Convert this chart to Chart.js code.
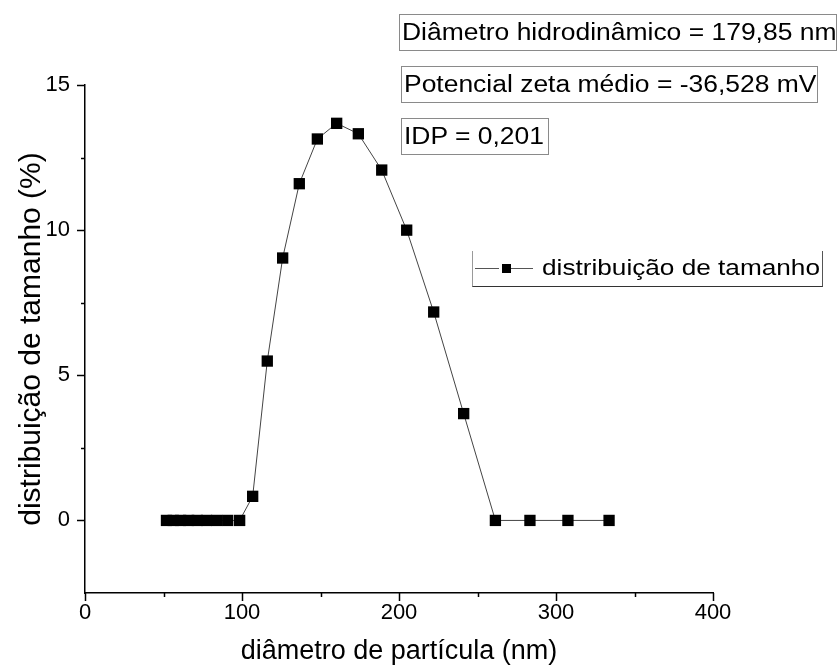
<!DOCTYPE html>
<html>
<head>
<meta charset="utf-8">
<script src="https://cdn.jsdelivr.net/npm/chart.js@4"></script>
<style>
  body { margin: 0; background: #fff; }
  #wrap { position: relative; width: 840px; height: 670px; font-family: "Liberation Sans", Arial, sans-serif; }
  .note { position: absolute; border: 1px solid #8a8a8a; font-size: 23px; line-height: 35px; color: #000; white-space: nowrap; box-sizing: border-box; }
  .note span, #legend .tx { display: inline-block; transform-origin: 0 50%; transform: scaleX(1.15); }
  .note span { margin-left: 2px; }
  #legend { position: absolute; left: 472px; top: 251px; width: 351px; height: 36px; box-sizing: border-box;
            border-left: 1px solid #9a9a9a; border-right: 1px solid #555; border-bottom: 1px solid #333;
            font-size: 22px; line-height: 34px; white-space: nowrap; }
  #legend .ln { position: absolute; top: 17px; height: 1px; background: #555; }
  #legend .mk { position: absolute; left: 29px; top: 13px; width: 9px; height: 9px; background: #000; }
  #legend .tx { position: absolute; left: 69px; top: 0; transform: scaleX(1.19); }
</style>
</head>
<body>
<div id="wrap">
  <canvas id="chart" width="840" height="670"></canvas>
  <div class="note" style="left:399px; top:14px; width:438px; height:37px;"><span>Diâmetro hidrodinâmico = 179,85 nm</span></div>
  <div class="note" style="left:401px; top:66px; width:417px; height:37px;"><span>Potencial zeta médio = -36,528 mV</span></div>
  <div class="note" style="left:401px; top:118px; width:148px; height:37px;"><span>IDP = 0,201</span></div>
  <div id="legend">
    <div class="ln" style="left:2px; width:24px;"></div>
    <div class="mk"></div>
    <div class="ln" style="left:38px; width:22px;"></div>
    <div class="tx">distribuição de tamanho</div>
  </div>
</div>
<script>
// diâmetro (nm) de cada classe e a distribuição (%)
const diameters = [51.9, 56.2, 60.9, 66.0, 71.5, 77.4, 83.9, 90.9, 98.5,
                   106.8, 116.1, 125.9, 136.5, 148.0, 160.3, 174.1, 189.0,
                   204.9, 222.1, 241.2, 261.4, 283.4, 307.6, 333.8];
const distribution = [0, 0, 0, 0, 0, 0, 0, 0, 0,
                      0.83, 5.49, 9.04, 11.6, 13.14, 13.68, 13.32, 12.07,
                      10.0, 7.18, 3.68, 0, 0, 0, 0];
const xTickLabels = [0, 100, 200, 300, 400];
const yTickLabels = [0, 5, 10, 15];

const FONT = '"Liberation Sans", Arial, sans-serif';

// ticks maiores e menores desenhados para fora dos eixos
const tickMarks = {
  id: 'tickMarks',
  afterDraw(chart) {
    const ctx = chart.ctx;
    const xs = chart.scales.x, ys = chart.scales.y;
    ctx.save();
    ctx.strokeStyle = '#000';
    ctx.lineWidth = 1.5;
    xs.ticks.forEach(t => {
      const px = Math.round(xs.getPixelForValue(t.value)) + 0.5;
      const len = xTickLabels.includes(t.value) ? 8 : 4;
      ctx.beginPath();
      ctx.moveTo(px, ys.bottom);
      ctx.lineTo(px, ys.bottom + len);
      ctx.stroke();
    });
    ys.ticks.forEach(t => {
      if (t.value === ys.min) return;
      const py = Math.round(ys.getPixelForValue(t.value)) + 0.5;
      const len = yTickLabels.includes(t.value) ? 8 : 4;
      ctx.beginPath();
      ctx.moveTo(xs.left, py);
      ctx.lineTo(xs.left - len, py);
      ctx.stroke();
    });
    ctx.restore();
  }
};

new Chart(document.getElementById('chart'), {
  type: 'scatter',
  data: {
    datasets: [{
      label: 'distribuição de tamanho',
      data: diameters.map((d, i) => ({ x: d, y: distribution[i] })),
      showLine: true,
      borderColor: '#444',
      borderWidth: 1,
      pointStyle: 'rect',
      pointRadius: 8,
      pointHoverRadius: 8,
      pointBackgroundColor: '#000',
      pointBorderColor: '#000',
      pointBorderWidth: 0
    }]
  },
  options: {
    responsive: false,
    animation: false,
    layout: { padding: { top: 85, right: 127, left: 0, bottom: 0 } },
    plugins: { legend: { display: false }, tooltip: { enabled: false } },
    scales: {
      x: {
        type: 'linear',
        min: 0, max: 400,
        grid: { display: false, drawTicks: false },
        border: { display: true, color: '#000', width: 1.5 },
        ticks: {
          stepSize: 50,
          padding: 7,
          color: '#000',
          font: { family: FONT, size: 22 },
          callback: v => xTickLabels.includes(v) ? String(v) : ''
        },
        title: {
          display: true,
          text: 'diâmetro de partícula (nm)',
          color: '#000',
          font: { family: FONT, size: 27 },
          padding: { top: 0, bottom: 2 }
        },
        afterFit: s => { s.height = 77; }
      },
      y: {
        min: -2.5, max: 15,
        grid: { display: false, drawTicks: false },
        border: { display: true, color: '#000', width: 1.5 },
        ticks: {
          stepSize: 2.5,
          padding: 15,
          color: '#000',
          font: { family: FONT, size: 22 },
          callback: v => yTickLabels.includes(v) ? String(v) : ''
        },
        title: {
          display: true,
          text: 'distribuição de tamanho (%)',
          color: '#000',
          font: { family: FONT, size: 30 },
          padding: { top: 14, bottom: 0 }
        },
        afterFit: s => { s.width = 85; }
      }
    }
  },
  plugins: [tickMarks]
});
</script>
</body>
</html>
